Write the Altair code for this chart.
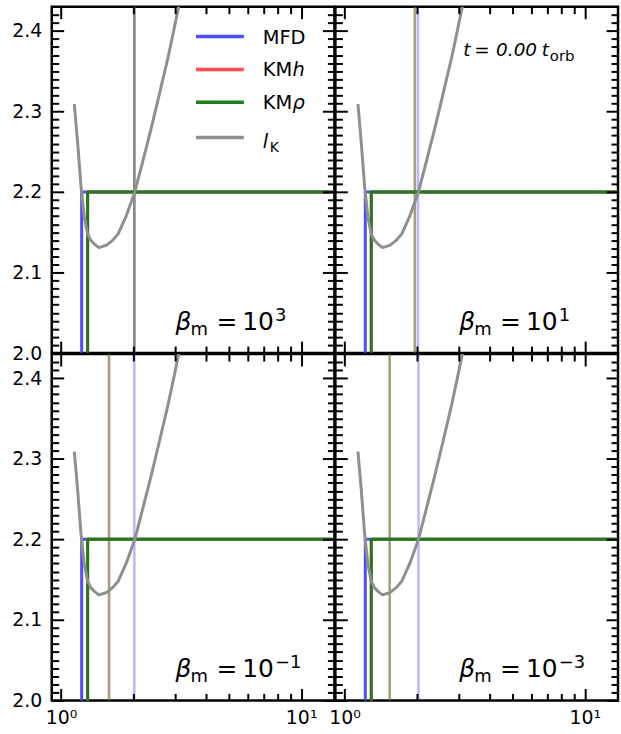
import altair as alt
import pandas as pd

# ---------------- values ----------------
# Keplerian angular momentum curve l_K(r)
lk_r = [1.136, 1.173, 1.211, 1.250, 1.290, 1.330, 1.380, 1.438, 1.548, 1.640, 1.730,
        1.873, 2.029, 2.198, 2.378, 2.575, 2.790, 2.955, 3.119, 3.30]
lk_l = [2.309, 2.261, 2.207, 2.169, 2.148, 2.140, 2.135, 2.131, 2.134, 2.140, 2.148,
        2.171, 2.200, 2.240, 2.280, 2.323, 2.367, 2.402, 2.436, 2.47]

# step profiles (zero inside the inner edge, constant 2.2 outside)
mfd_r = [1.219, 1.219, 14.0]
mfd_l = [0.0, 2.2, 2.2]
kmh_r = [1.291, 1.291, 14.0]
kmh_l = [0.0, 2.2, 2.2]
kmrho_r = [1.291, 1.291, 14.0]
kmrho_l = [0.0, 2.2, 2.2]

# per panel: beta_m exponent and vertical marker positions
beta_exponents = ["3", "1", "−1", "−3"]
rc_mfd = [2.02, 2.02, 2.02, 2.03]
rc_kmh = [2.02, 1.96, 1.585, 1.54]
rc_kmrho = [2.02, 1.96, 1.585, 1.54]

series_names = ["MFD", "KMh", "KMρ", "lK"]
series_colors = ["#4d4dff", "#ff4d4d", "#1d7d1d", "#8f8f8f"]

x_label_values = [1, 10]
x_tick_values = [1, 2, 3, 4, 5, 6, 7, 8, 9, 10]
y_label_values = [2.0, 2.1, 2.2, 2.3, 2.4]
y_tick_values = [round(2.0 + 0.01 * i, 2) for i in range(43)]

# ---------------- tables ----------------
rows = []
for name, rs, ls in [("MFD", mfd_r, mfd_l), ("KMh", kmh_r, kmh_l),
                     ("KMρ", kmrho_r, kmrho_l), ("lK", lk_r, lk_l)]:
    for i, (r, l) in enumerate(zip(rs, ls)):
        rows.append({"series": name, "idx": i, "r": r, "l": l})
lines_df = pd.DataFrame(rows)
color_of = dict(zip(series_names, series_colors))

W, H = 284, 348
xscale = alt.Scale(type="log", domain=[0.915, 13.75], nice=False)
yscale = alt.Scale(domain=[2.0, 2.43], nice=False, zero=False)
FONT = "DejaVu Sans"

XT = "datum.value == 1 || datum.value == 10"
YT = "abs(datum.value * 10 - round(datum.value * 10)) < 0.001"


def tick_axis(orient, values, test, offset):
    return alt.Axis(orient=orient, offset=offset, values=values, labels=False,
                    domain=False, grid=False, title=None, ticks=True,
                    tickColor="black", tickWidth=2, zindex=1,
                    tickSize={"condition": {"test": test, "value": 12}, "value": 7})


def x_label_axis():
    return alt.Axis(orient="bottom", values=x_label_values,
                    labelExpr="datum.value == 1 ? '10⁰' : '10¹'",
                    ticks=False, tickSize=0, domain=False, grid=False, title=None,
                    labelFont=FONT, labelFontSize=19, labelColor="black",
                    labelPadding=8, labelFlush=False)


def y_label_axis():
    return alt.Axis(orient="left", values=y_label_values, format=".1f",
                    ticks=False, tickSize=0, domain=False, grid=False, title=None,
                    labelFont=FONT, labelFontSize=19, labelColor="black",
                    labelPadding=10, labelFlush=False, minExtent=45, maxExtent=45)


def text_piece(df, txt, dx, dy, size, italic=False):
    return alt.Chart(df).mark_text(
        text=txt, align="left", baseline="alphabetic", dx=dx, dy=dy,
        fontSize=size, font=FONT, fontStyle="italic" if italic else "normal",
        color="black").encode(
        x=alt.X("r:Q", scale=xscale, axis=None),
        y=alt.Y("l:Q", scale=yscale, axis=None))


one = pd.DataFrame({"a": [0]})


def legend_layers():
    out = []
    row_y = [30, 63, 96, 131.5]
    for name, yy in zip(series_names, row_y):
        out.append(alt.Chart(one).mark_rule(color=color_of[name], strokeWidth=3.5).encode(
            x=alt.value(145), x2=alt.value(193), y=alt.value(yy)))
    pieces = [
        (0, "MFD", 0, 0, 19.5, False),
        (1, "KM", 0, 0, 19.5, False), (1, "h", 30, 0, 19.5, True),
        (2, "KM", 0, 0, 19.5, False), (2, "ρ", 30, 0, 19.5, True),
        (3, "l", 0, 3, 19.5, True), (3, "K", 7, 7, 14, False),
    ]
    for row, txt, dx, dy, size, it in pieces:
        out.append(alt.Chart(one).mark_text(
            text=txt, align="left", baseline="alphabetic", fontSize=size, font=FONT,
            fontStyle="italic" if it else "normal", color="black").encode(
            x=alt.value(212 + dx), y=alt.value(row_y[row] + 7 + dy)))
    return out


def panel(k):
    left = k % 2 == 0
    bottom = k >= 2
    layers = []

    # vertical markers
    vdf = pd.DataFrame({"series": ["MFD", "KMh", "KMρ"],
                        "r": [rc_mfd[k], rc_kmh[k], rc_kmrho[k]]})
    for name in ["MFD", "KMh", "KMρ"]:
        layers.append(alt.Chart(vdf).transform_filter(alt.datum.series == name)
                      .mark_rule(color=color_of[name], opacity=0.4, strokeWidth=2.5)
                      .encode(x=alt.X("r:Q", scale=xscale, axis=None)))

    # step profiles + Keplerian curve
    for j, name in enumerate(series_names):
        xa = x_label_axis() if (j == 0 and bottom) else None
        ya = y_label_axis() if (j == 0 and left) else None
        layers.append(alt.Chart(lines_df).transform_filter(alt.datum.series == name)
                      .mark_line(clip=True, strokeWidth=3, color=color_of[name],
                                 strokeJoin="round")
                      .encode(x=alt.X("r:Q", scale=xscale, axis=xa),
                              y=alt.Y("l:Q", scale=yscale, axis=ya),
                              order="idx:Q"))

    # beta_m annotation
    bdf = pd.DataFrame({"r": [3.0], "l": [2.029]})
    layers += [
        text_piece(bdf, "β", 0, 0, 25, True),
        text_piece(bdf, "m", 15, 5, 18),
        text_piece(bdf, "=", 41, 0, 25),
        text_piece(bdf, "10", 67, 0, 25),
        text_piece(bdf, beta_exponents[k], 100, -9, 18),
    ]

    if k == 0:
        layers += legend_layers()
    if k == 1:
        tdf = pd.DataFrame({"r": [3.118], "l": [2.369]})
        layers += [
            text_piece(tdf, "t", 0, 0, 18.5, True),
            text_piece(tdf, "=", 11, 0, 18.5),
            text_piece(tdf, "0.00", 33, 0, 18.5, True),
            text_piece(tdf, "t", 79, 0, 18.5, True),
            text_piece(tdf, "orb", 87, 5, 15),
        ]

    # inward ticks on all four sides
    ghost = alt.Chart(lines_df).mark_point(opacity=0, clip=True)
    layers.append(ghost.encode(
        x=alt.X("r:Q", scale=xscale, axis=tick_axis("top", x_tick_values, XT, -H)),
        y=alt.Y("l:Q", scale=yscale, axis=tick_axis("right", y_tick_values, YT, -W))))
    layers.append(ghost.encode(
        x=alt.X("r:Q", scale=xscale, axis=tick_axis("bottom", x_tick_values, XT, -H)),
        y=alt.Y("l:Q", scale=yscale, axis=tick_axis("left", y_tick_values, YT, -W))))

    return alt.layer(*layers).resolve_axis(x="independent", y="independent").properties(
        width=W, height=H)


chart = alt.concat(*[panel(k) for k in range(4)], columns=2, spacing=1, bounds="flush") \
    .configure_view(stroke="black", strokeWidth=2.5) \
    .properties(padding={"left": 5, "top": 2, "right": 0, "bottom": 0}, background="white")

chart.save("out.html", embed_options={"renderer": "svg", "actions": False})
